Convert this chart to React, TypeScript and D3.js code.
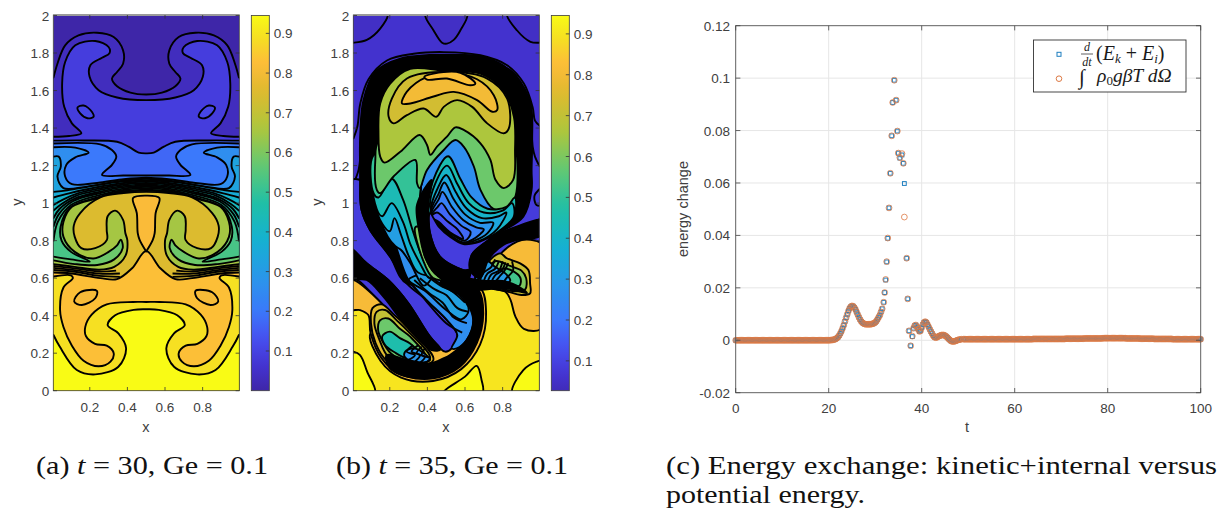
import React from 'react';
import * as d3 from 'd3';

type P = [number, number];
type Layer = { v: number | null; pts: P[]; open?: boolean; walls?: boolean };

// ---- parula colour ramp
const parulaAt = [0, 0.07, 0.14, 0.21, 0.3, 0.4, 0.5, 0.6, 0.7, 0.8, 0.87, 0.94, 1];
const parulaHex = ['#3e26a8', '#4433d2', '#4750f0', '#3b78fb', '#2a96ea', '#14b1d2', '#20bfa6', '#62c873', '#aec63c', '#dfba2e', '#fdbb3a', '#f6df22', '#f9fb15'];
const parula = d3.scaleLinear<string>().domain(parulaAt).range(parulaHex).clamp(true);
const color = (v: number) => parula(v / 0.945);

// ---- panel (a): contour lines, left half from wall to centre, mirrored at x = 0.5
const aC1: P[] = [[.007, 1.669], [.028, 1.743], [.069, 1.841], [.14, 1.894], [.238, 1.908], [.327, 1.885], [.377, 1.814], [.377, 1.743], [.345, 1.699], [.318, 1.664], [.345, 1.623], [.416, 1.589], [.5, 1.579]];
const aC2: P[] = [[.007, 1.354], [.09, 1.358], [.155, 1.372], [.105, 1.425], [.064, 1.513], [.053, 1.637], [.069, 1.752], [.123, 1.841], [.229, 1.864], [.3, 1.832], [.305, 1.8], [.265, 1.775], [.203, 1.735], [.199, 1.673], [.247, 1.602], [.345, 1.563], [.5, 1.549]];
const aC3: P[] = [[.007, 1.333], [.17, 1.334], [.345, 1.327], [.406, 1.301], [.46, 1.269], [.5, 1.265]];
const aC4: P[] = [[.007, 1.318], [.256, 1.313], [.318, 1.283], [.341, 1.248], [.318, 1.204], [.265, 1.15], [.38, 1.147], [.5, 1.147]];
const aC5: P[] = [[.007, 1.298], [.123, 1.296], [.194, 1.269], [.123, 1.244], [.075, 1.204], [.069, 1.142], [.105, 1.101], [.256, 1.11], [.38, 1.127], [.5, 1.135]];
const aC6: P[] = [[.007, 1.248], [.034, 1.248], [.046, 1.195], [.028, 1.142], [.06, 1.08], [.185, 1.088], [.345, 1.115], [.5, 1.13]];
const aA1: P[] = [[.007, 1.06], [.08, 1.068], [.22, 1.092], [.36, 1.113], [.5, 1.122]];
const aA2: P[] = [[.007, 1.03], [.09, 1.052], [.23, 1.083], [.37, 1.106], [.5, 1.115]];
const aA3: P[] = [[.007, .99], [.06, 1.02], [.14, 1.053], [.25, 1.078], [.38, 1.099], [.5, 1.107]];
const aA4: P[] = [[.007, .96], [.05, .995], [.13, 1.04], [.25, 1.069], [.38, 1.092], [.5, 1.1]];
const aA5: P[] = [[.007, .92], [.04, .97], [.12, 1.024], [.25, 1.06], [.38, 1.085], [.5, 1.094]];
const aA6: P[] = [[.007, .875], [.035, .94], [.11, 1.01], [.24, 1.05], [.38, 1.077], [.5, 1.087]];
const aA7: P[] = [[.007, .8], [.03, .9], [.1, .99], [.24, 1.04], [.38, 1.07], [.5, 1.08]];
const aA8: P[] = [[.007, .715], [.1, .7], [.2, .688], [.1, .74], [.05, .8], [.045, .875], [.095, .975], [.24, 1.03], [.38, 1.063], [.5, 1.072]];
const aA9: P[] = [[.007, .695], [.12, .675], [.24, .67], [.33, .7], [.375, .76], [.365, .805], [.345, .775], [.3, .74], [.22, .705], [.12, .74], [.06, .82], [.06, .9], [.105, .98], [.24, 1.025], [.38, 1.058], [.5, 1.067]];
const aA10: P[] = [[.007, .675], [.12, .66], [.25, .645], [.33, .66], [.39, .72], [.4, .8], [.389, .841], [.377, .911], [.335, .96], [.295, .93], [.29, .858], [.291, .804], [.229, .76], [.155, .76], [.12, .82], [.115, .88], [.149, .947], [.256, 1.03], [.38, 1.053], [.5, 1.06]];
const aA11: P[] = [[.007, .63], [.1, .625], [.256, .6], [.345, .595], [.425, .653], [.5, .745]];
const aC7: P[] = [[.007, .609], [.1, .615], [.11, .6], [.06, .55], [.042, .43], [.06, .34], [.105, .24], [.167, .16], [.247, .13], [.31, .155], [.327, .2], [.29, .24], [.228, .25], [.18, .29], [.176, .34], [.21, .405], [.29, .46], [.43, .473], [.5, .473]];
const aC8: P[] = [[.007, .297], [.04, .235], [.131, .11], [.229, .087], [.352, .128], [.393, .226], [.352, .306], [.295, .349], [.335, .402], [.433, .431], [.5, .434]];
const aIslandUpper: P[] = [[.135, 1.51], [.167, 1.52], [.211, 1.487], [.22, 1.46], [.188, 1.452], [.149, 1.478]];
const aIslandLower: P[] = [[.117, .475], [.149, .525], [.238, .532], [.229, .493], [.158, .457]];
const aColumnHalf: P[] = [[.5, .742], [.465, .804], [.455, .84], [.45, .947], [.43, 1.027], [.5, 1.04]];
const aExtra1: P[] = [[.007, .665], [.12, .652], [.25, .635], [.34, .64]];
const aExtra2: P[] = [[.007, .655], [.12, .643], [.25, .624], [.36, .625]];
const aExtra3: P[] = [[.007, .643], [.12, .634], [.25, .612], [.36, .607]];

const mirrorPts = (p: P[]): P[] => [...p, ...p.slice(0, -1).reverse().map(([x, y]) => [1 - x, y] as P)];
const flip = (p: P[]): P[] => p.map(([x, y]) => [1 - x, y] as P);

const aLayers: Layer[] = [
  { v: .035, pts: mirrorPts(aC1), walls: true },
  { v: .09, pts: mirrorPts(aC2), walls: true },
  { v: .11, pts: aIslandUpper },
  { v: .11, pts: flip(aIslandUpper) },
  { v: .17, pts: mirrorPts(aC3), walls: true },
  { v: .2, pts: mirrorPts(aC4), walls: true },
  { v: .26, pts: mirrorPts(aC5), walls: true },
  { v: .33, pts: mirrorPts(aC6), walls: true },
  { v: .36, pts: mirrorPts(aA1), walls: true },
  { v: .39, pts: mirrorPts(aA2), walls: true },
  { v: .42, pts: mirrorPts(aA3), walls: true },
  { v: .45, pts: mirrorPts(aA4), walls: true },
  { v: .47, pts: mirrorPts(aA5), walls: true },
  { v: .5, pts: mirrorPts(aA6), walls: true },
  { v: .53, pts: mirrorPts(aA7), walls: true },
  { v: .58, pts: mirrorPts(aA8), walls: true },
  { v: .65, pts: mirrorPts(aA9), walls: true },
  { v: .75, pts: mirrorPts(aA10), walls: true },
  { v: .83, pts: mirrorPts(aA11), walls: true },
  { v: .815, pts: mirrorPts(aColumnHalf) },
  { v: .81, pts: aIslandLower },
  { v: .81, pts: flip(aIslandLower) },
  { v: .89, pts: mirrorPts(aC7), walls: true },
  { v: .945, pts: mirrorPts(aC8), walls: true },
  { v: null, pts: aExtra1, open: true },
  { v: null, pts: aExtra2, open: true },
  { v: null, pts: aExtra3, open: true },
  { v: null, pts: flip(aExtra1), open: true },
  { v: null, pts: flip(aExtra2), open: true },
  { v: null, pts: flip(aExtra3), open: true },
];

// ---- panel (b): contour regions and the bundles of contours that merge into black bands
const bArc1: P[] = [[.007, 1.345], [.028, 1.41], [.043, 1.53], [.087, 1.66], [.185, 1.76], [.327, 1.796], [.487, 1.805], [.682, 1.788], [.824, 1.735], [.913, 1.637], [.96, 1.51], [.972, 1.44], [.996, 1.414]];
const bArc2: P[] = [[.007, 1.103], [.034, 1.177], [.048, 1.3], [.06, 1.5], [.15, 1.7], [.5, 1.78], [.85, 1.7], [.94, 1.5], [.96, 1.3], [.972, 1.248], [.996, 1.198]];
const bCornerL: P[] = [[.007, 1.855], [.078, 1.87], [.149, 1.93], [.188, 2.01], [0, 2.01], [0, 1.855]];
const bCornerM: P[] = [[.389, 2.01], [.433, 1.92], [.478, 1.855], [.504, 1.85], [.54, 1.87], [.575, 1.92], [.611, 2.01]];
const bCornerR: P[] = [[.824, 2.01], [.877, 1.92], [.948, 1.86], [.996, 1.855], [1.01, 1.855], [1.01, 2.01]];
const bYellow: P[] = [[-.01, .6], [.309, .35], [.611, .55], [.824, .56], [1.01, .6], [1.01, -.01], [-.01, -.01]];
const bBrightL: P[] = [[.006, .208], [.042, .19], [.08, .1], [.121, -.01], [-.01, -.01], [-.01, .208]];
const bBrightM: P[] = [[.485, -.01], [.6, .075], [.662, .132], [.688, .057], [.692, -.01]];
const bBrightR: P[] = [[.852, -.01], [.91, .11], [.981, .155], [1.01, .158], [1.01, -.01]];
const bRim: P[] = [[.098, .306], [.15, .16], [.26, .07], [.43, .052], [.58, .115], [.68, .245], [.712, .42], [.68, .545], [.5, .5], [.3, .3]];
const bLobeOrange: P[] = [[-.01, .591], [.2, .42], [.43, .08], [.254, .089], [.157, .172], [.098, .306], [.086, .403], [.042, .43], [-.01, .434]];
const bLobeYellow: P[] = [[.1, .359], [.108, .44], [.157, .46], [.228, .4], [.308, .323], [.432, .164], [.29, .118], [.183, .16], [.125, .252]];
const bLobeOlive: P[] = [[.118, .359], [.13, .42], [.175, .43], [.237, .375], [.299, .315], [.414, .172], [.29, .136], [.192, .18], [.142, .279]];
const bLobeGreen: P[] = [[.138, .323], [.148, .375], [.192, .385], [.254, .33], [.308, .288], [.396, .172], [.29, .156], [.205, .2], [.158, .27]];
const bLobeTeal: P[] = [[.175, .243], [.16, .29], [.2, .315], [.254, .28], [.308, .252], [.378, .172], [.29, .172], [.225, .205]];
const bLobeBlue: P[] = [[.281, .178], [.281, .208], [.325, .226], [.37, .208], [.414, .164], [.343, .15]];
const bFinger: P[] = [[-.01, .76], [.077, .68], [.192, .59], [.299, .466], [.414, .288], [.494, .208], [.529, .226], [.559, .297], [.503, .377], [.396, .483], [.29, .572], [.201, .715], [.095, .857], [.05, .963], [.042, 1.05], [.045, 1.12], [-.01, 1.12]];
const bOuterBlack: P[] = [[.042, 1.1765], [.043, 1.372], [.06, 1.549], [.123, 1.699], [.256, 1.77], [.487, 1.791], [.718, 1.774], [.868, 1.68], [.948, 1.531], [.957, 1.336], [.954, 1.1765], [.954, 1.07], [.91, .928], [.786, .84], [.65, .72], [.5, .6], [.29, .572], [.201, .715], [.095, .857], [.05, .963]];
const bInterior: P[] = [[.14, 1.372], [.149, 1.531], [.202, 1.637], [.309, 1.716], [.487, 1.706], [.682, 1.69], [.806, 1.6], [.86, 1.46], [.868, 1.283], [.875, 1.1765], [.866, 1.0], [.822, .91], [.697, .82], [.591, .782], [.503, .777], [.414, .945], [.387, .821], [.423, .697], [.5, .59], [.591, .501], [.644, .377], [.609, .27], [.556, .226], [.529, .226], [.559, .297], [.503, .377], [.396, .483], [.299, .59], [.219, .803], [.139, .945], [.113, 1.017], [.104, 1.1765]];
const bWaveD: P[] = [[.19, .82], [.23, .77], [.26, .75], [.31, .68], [.38, .56], [.43, .62], [.4, .75], [.36, 1.0], [.36, 1.2], [.2, 1.3], [.11, 1.25], [.12, 1.0]];
const bWaveC: P[] = [[.16, .89], [.2, .85], [.225, .92], [.26, .83], [.3, .72], [.35, .63], [.43, .62], [.4, .75], [.36, 1.0], [.36, 1.2], [.2, 1.3], [.11, 1.25], [.12, 1.0]];
const bWaveB: P[] = [[.13, .97], [.16, .93], [.21, 1.0], [.27, .9], [.31, .78], [.36, .68], [.41, .6], [.43, .62], [.4, .75], [.36, 1.0], [.36, 1.2], [.2, 1.3], [.11, 1.25]];
const bWaveA: P[] = [[.115, 1.05], [.14, 1.03], [.21, 1.13], [.27, 1.02], [.32, .86], [.37, .72], [.43, .62], [.4, .75], [.36, 1.0], [.36, 1.2], [.2, 1.3], [.11, 1.25]];
const bHookGreen: P[] = [[.352, .874], [.387, .715], [.44, .626], [.5, .59], [.43, .6], [.375, .7], [.335, .87]];
const bLowerCyan: P[] = [[.3, .59], [.39, .53], [.5, .43], [.58, .38], [.62, .43], [.56, .52], [.47, .57], [.38, .62]];
const bC2: P[] = [[.265, 1.531], [.291, 1.594], [.398, 1.673], [.522, 1.692], [.664, 1.66], [.753, 1.575], [.771, 1.496], [.745, 1.487], [.664, 1.549], [.54, 1.593], [.433, 1.568], [.309, 1.531]];
const bC1: P[] = [[.384, 1.673], [.433, 1.69], [.575, 1.695], [.655, 1.637], [.629, 1.628], [.504, 1.664], [.398, 1.658]];
const bC3: P[] = [[.194, 1.46], [.211, 1.557], [.291, 1.664], [.504, 1.7], [.718, 1.664], [.824, 1.557], [.833, 1.398], [.806, 1.372], [.718, 1.425], [.638, 1.513], [.558, 1.549], [.487, 1.513], [.447, 1.46], [.38, 1.504], [.291, 1.469], [.22, 1.425]];
const bC4: P[] = [[.149, 1.248], [.14, 1.372], [.149, 1.531], [.202, 1.637], [.309, 1.716], [.487, 1.706], [.682, 1.69], [.806, 1.6], [.86, 1.46], [.866, 1.283], [.856, 1.124], [.806, 1.08], [.762, 1.124], [.735, 1.23], [.682, 1.319], [.593, 1.39], [.549, 1.404], [.504, 1.354], [.451, 1.301], [.416, 1.257], [.398, 1.31], [.359, 1.363], [.256, 1.274], [.172, 1.216]];
const bC5: P[] = [[.131, 1.071], [.123, 1.23], [.14, 1.33], [.3, 1.4], [.6, 1.45], [.85, 1.35], [.87, 1.3], [.868, 1.035], [.824, .973], [.753, .968], [.682, 1.071], [.647, 1.195], [.593, 1.301], [.549, 1.336], [.487, 1.283], [.398, 1.177], [.359, 1.08], [.345, 1.106], [.336, 1.23], [.22, 1.142], [.149, 1.053]];
const bS0: P[] = [[.405, .96], [.43, 1.12], [.51, 1.25], [.575, 1.13], [.635, 1.03], [.72, .97], [.82, .98], [.865, 1.03], [.86, .92], [.78, .845], [.68, .79], [.591, .78], [.52, .818], [.455, .87]];
const bS1: P[] = [[.414, .98], [.44, 1.1], [.505, 1.2], [.56, 1.1], [.62, 1.0], [.7, .95], [.8, .96], [.85, 1.0], [.86, .93], [.78, .85], [.68, .795], [.591, .782], [.52, .821], [.46, .875]];
const bS2: P[] = [[.42, .97], [.455, 1.08], [.5, 1.15], [.55, 1.06], [.61, .97], [.69, .92], [.78, .93], [.82, .95], [.77, .86], [.68, .8], [.591, .785], [.52, .825], [.46, .88]];
const bS3: P[] = [[.42, .955], [.46, 1.05], [.49, 1.11], [.54, 1.02], [.6, .94], [.68, .895], [.75, .895], [.72, .84], [.65, .8], [.591, .788], [.52, .828], [.46, .885]];
const bS4: P[] = [[.42, .94], [.46, 1.02], [.48, 1.06], [.53, .98], [.59, .91], [.66, .87], [.7, .86], [.64, .805], [.591, .79], [.52, .832], [.46, .89]];
const bS5: P[] = [[.42, .93], [.455, .98], [.475, 1.0], [.52, .94], [.58, .88], [.63, .845], [.6, .8], [.52, .84], [.46, .895]];
const bS6: P[] = [[.42, .925], [.45, .95], [.51, .9], [.56, .86], [.59, .81], [.52, .845], [.46, .9]];
const bBlueRegion: P[] = [[.414, .945], [.46, .875], [.52, .821], [.591, .782], [.68, .795], [.775, .84], [.697, .782], [.635, .723], [.627, .643], [.591, .643], [.467, .715], [.414, .839]];
const bRightOrange: P[] = [[.78, .715], [.877, .795], [.948, .804], [1.01, .78], [1.01, .333], [.913, .33], [.868, .395], [.842, .484], [.815, .528], [.718, .555], [.771, .644]];
const bRightOlive: P[] = [[.786, .732], [.822, .706], [.893, .679], [.937, .643], [.946, .572], [.946, .519], [.9, .51], [.822, .53], [.72, .56], [.7, .65]];
const bRightGreen: P[] = [[.76, .69], [.84, .665], [.9, .64], [.925, .6], [.92, .54], [.87, .53], [.76, .56], [.72, .62]];
const bRightTeal: P[] = [[.8, .65], [.86, .635], [.895, .6], [.89, .56], [.85, .555], [.78, .57], [.76, .61]];
const bRightBlue: P[] = [[.72, .69], [.76, .66], [.82, .62], [.84, .585], [.76, .565], [.66, .58], [.66, .63]];
const bHook: P[] = [[.423, 1.123], [.37, 1.052], [.343, .981], [.352, .874], [.387, .715], [.44, .626], [.52, .572], [.6, .56], [.627, .643], [.591, .643], [.467, .715], [.41, .857], [.405, 1.0]];
const bBandH: P[] = [[.5, .6], [.6, .6], [.72, .585], [.8, .585], [.875, .56], [.93, .52], [.82, .545], [.671, .537], [.55, .53]];
const bBandRight: P[] = [[.627, .643], [.635, .723], [.697, .782], [.786, .839], [.981, .91], [1.01, .915], [1.01, .83], [.875, .803], [.804, .777], [.75, .732], [.72, .69], [.68, .6]];
const bBandDiag: P[] = [[-.01, .76], [.077, .68], [.192, .59], [.299, .466], [.414, .288], [.47, .22], [.423, .217], [.29, .341], [.166, .501], [.077, .59], [-.01, .6]];
const bBandBottom: P[] = [[.183, .19], [.29, .164], [.414, .146], [.485, .172], [.52, .19], [.609, .27], [.644, .377], [.618, .466], [.591, .501], [.52, .537], [.467, .572], [.52, .61], [.671, .537], [.697, .412], [.662, .252], [.573, .128], [.432, .066], [.29, .075], [.2, .12]];
const bWedge: P[] = [[1.01, 1.08], [.97, 1.04], [.98, .99], [1.01, .99]];

const bLineW1: P[] = [[.33, .59], [.41, .52], [.48, .47], [.54, .39], [.61, .36]];
const bLineW2: P[] = [[.36, .6], [.44, .54], [.5, .51], [.56, .44], [.62, .42]];
const bLineW3: P[] = [[.4, .61], [.47, .56], [.53, .53], [.6, .47]];
const bLineW4: P[] = [[.3, .59], [.4, .47], [.5, .36], [.585, .31]];
const bStripe1: P[] = [[.325, .243], [.29, .208], [.334, .19], [.299, .164]];
const bStripe2: P[] = [[.352, .243], [.316, .208], [.361, .19], [.334, .155]];
const bStripe3: P[] = [[.37, .235], [.343, .199], [.387, .181], [.361, .149]];
const bStripe4: P[] = [[.387, .226], [.37, .19], [.414, .172], [.387, .146]];
const bFan1: P[] = [[.68, .59], [.7, .63], [.74, .66], [.76, .7]];
const bFan2: P[] = [[.72, .58], [.74, .62], [.78, .64], [.8, .69]];
const bFan3: P[] = [[.76, .58], [.785, .61], [.81, .64], [.83, .68]];
const bFan4: P[] = [[.8, .57], [.82, .6], [.855, .64], [.85, .69]];
const bFan5: P[] = [[.7, .585], [.72, .625], [.76, .65], [.78, .69]];
const bFan6: P[] = [[.74, .58], [.76, .615], [.795, .64], [.815, .685]];

const bLayers: Layer[] = [
  { v: .045, pts: bCornerL }, { v: .045, pts: bCornerM }, { v: .045, pts: bCornerR },
  { v: .06, pts: bArc1, walls: true },
  { v: .085, pts: bArc2, walls: true },
  { v: .9, pts: bYellow },
  { v: .945, pts: bBrightL }, { v: .945, pts: bBrightM }, { v: .945, pts: bBrightR },
  { v: .81, pts: bRim },
  { v: .81, pts: bLobeOrange },
  { v: .76, pts: bLobeYellow }, { v: .7, pts: bLobeOlive }, { v: .58, pts: bLobeGreen }, { v: .46, pts: bLobeTeal }, { v: .28, pts: bLobeBlue },
  { v: .09, pts: bFinger },
  { v: null, pts: bOuterBlack },
  { v: .26, pts: bInterior },
  { v: .32, pts: bLowerCyan },
  { v: .31, pts: bWaveD }, { v: .38, pts: bWaveC }, { v: .44, pts: bWaveB }, { v: .5, pts: bWaveA }, { v: .6, pts: bHookGreen },
  { v: .58, pts: bC5 }, { v: .66, pts: bC4 }, { v: .73, pts: bC3 }, { v: .8, pts: bC2 }, { v: .83, pts: bC1 },
  { v: .45, pts: bS0 }, { v: .4, pts: bS1 }, { v: .34, pts: bS2 }, { v: .28, pts: bS3 }, { v: .22, pts: bS4 }, { v: .17, pts: bS5 }, { v: .13, pts: bS6 },
  { v: .09, pts: bBlueRegion },
  { v: .81, pts: bRightOrange }, { v: .72, pts: bRightOlive }, { v: .6, pts: bRightGreen }, { v: .52, pts: bRightTeal }, { v: .3, pts: bRightBlue },
  { v: null, pts: bHook }, { v: null, pts: bBandH }, { v: null, pts: bBandRight }, { v: null, pts: bBandDiag }, { v: null, pts: bBandBottom },
  { v: .09, pts: bWedge },
  ...[bLineW1, bLineW2, bLineW3, bLineW4, bStripe1, bStripe2, bStripe3, bStripe4, bFan1, bFan2, bFan3, bFan4, bFan5, bFan6].map(pts => ({ v: null, pts, open: true } as Layer)),
];

// ---- panel (c): energy series
const xTicks = [.2, .4, .6, .8];
const yTicks = [0, .2, .4, .6, .8, 1, 1.2, 1.4, 1.6, 1.8, 2];
const cbTicks = [.1, .2, .3, .4, .5, .6, .7, .8, .9];
const cTickX = [0, 20, 40, 60, 80, 100];
const cTickY = [-.02, 0, .02, .04, .06, .08, .1, .12];

const tEarly = d3.range(0, 20, .25);
const vEarly = tEarly.map(() => 0);
const tBump = [20, 20.25, 20.5, 20.75, 21, 21.25, 21.5, 21.75, 22, 22.25, 22.5, 22.75, 23, 23.25, 23.5, 23.75, 24, 24.25, 24.5, 24.75, 25, 25.25, 25.5, 25.75, 26, 26.25, 26.5, 26.75, 27, 27.25, 27.5, 27.75, 28, 28.25, 28.5, 28.75, 29, 29.25, 29.5, 29.75, 30, 30.25, 30.5, 30.75, 31, 31.25];
const vBump = [0, 0, .0001, .0001, .0002, .0003, .0005, .0008, .0012, .0018, .0026, .0035, .0046, .0058, .0072, .0086, .0099, .0112, .0122, .0128, .0131, .013, .0125, .0118, .0108, .0098, .0088, .0079, .0072, .0067, .0064, .0062, .0061, .0061, .0061, .0061, .0061, .0062, .0063, .0065, .0068, .0073, .008, .0088, .0096, .0108];
const tPeak = [31.5, 31.83, 32.04, 32.25, 32.47, 32.7, 32.97, 33.25, 33.55, 33.76, 34.1, 34.5, 34.76, 34.97, 35.3, 35.76, 36.05, 36.27, 36.77, 37, 37.27, 37.63, 37.98];
const vPeakBlue = [.012, .0145, .0182, .023, .0299, .0389, .0505, .0637, .078, .0907, .0992, .0916, .0798, .0714, .0695, .0707, .0675, .0598, .0313, .0158, .0036, -.0021, .0014];
const vPeakOrange = [.012, .0145, .0182, .0232, .03, .039, .0505, .0637, .078, .0907, .0992, .0916, .0798, .0714, .0697, .0712, .0675, .047, .0313, .0158, .0036, -.0021, .0016];
const tTail = [38.25, 38.5, 38.75, 39, 39.25, 39.5, 39.75, 40, 40.25, 40.5, 40.75, 41, 41.25, 41.5, 41.75, 42, 42.25, 42.5, 42.75, 43, 43.25, 43.5, 43.75, 44, 44.25, 44.5, 44.75, 45, 45.25, 45.5, 45.75, 46, 46.25, 46.5, 46.75, 47, 47.25, 47.5, 47.75, 48, 48.25, 48.5];
const vTail = [.0046, .0056, .0058, .0051, .0042, .0034, .0036, .0048, .006, .0068, .0071, .0068, .006, .0051, .0042, .0033, .0025, .0017, .0012, .001, .0011, .0014, .0016, .0018, .002, .002, .002, .0018, .0015, .0011, .0006, .0002, -.0002, -.0004, -.0005, -.0004, -.0003, -.0001, .0001, .0002, .0003, .0004];
const tLateUnit = [49, 50, 51, 52, 53, 54, 55, 56, 57, 58, 59, 60, 61, 62, 63, 64, 65, 66, 67, 68, 69, 70, 71, 72, 73, 74, 75, 76, 77, 78, 79, 80, 81, 82, 83, 84, 85, 86, 87, 88, 89, 90, 91, 92, 93, 94, 95, 96, 97, 98, 99, 100];
const vLateUnit = [.0004, .0004, .0004, .0004, .0004, .0004, .0004, .0004, .0004, .0004, .0004, .0004, .0004, .0004, .0004, .0005, .0005, .0005, .0005, .0005, .0005, .0005, .0006, .0006, .0006, .0006, .0007, .0007, .0007, .0007, .0008, .0008, .0008, .0008, .0008, .0007, .0007, .0007, .0006, .0006, .0006, .0005, .0005, .0005, .0005, .0004, .0004, .0004, .0004, .0004, .0004, .0004];
const tLate = tLateUnit.flatMap(t => [t, t + .25, t + .5, t + .75]).slice(0, -3);
const vLate = vLateUnit.flatMap(v => [v, v, v, v]).slice(0, -3);

const sans = '"Liberation Sans", Arial, sans-serif';
const serif = '"Liberation Serif", "DejaVu Serif", serif';
const ink = '#404040';

function ContourPanel({ left, layers, cbMin, id }: { left: number; layers: Layer[]; cbMin: number; id: string }) {
  const xS = d3.scaleLinear().domain([.006, .995]).range([left, left + 186]);
  const yS = d3.scaleLinear().domain([0, 2]).range([390.7, 15.5]);
  const cbX = left + 198, cbW = 18;
  const cS = d3.scaleLinear().domain([cbMin, .945]).range([390.7, 15.5]);
  const gen = (pts: P[], closed: boolean) =>
    d3.line<P>().x(d => xS(d[0])).y(d => yS(d[1])).curve(closed ? d3.curveCatmullRomClosed.alpha(.5) : d3.curveCatmullRom.alpha(.5))(pts) as string;
  const path = (l: Layer) => {
    if (l.open) return gen(l.pts, false);
    if (l.walls) {
      const r = left + 191, L = left - 5;
      return `${gen(l.pts, false)}L${r},${yS(l.pts[l.pts.length - 1][1])}L${r},396L${L},396L${L},${yS(l.pts[0][1])}Z`;
    }
    return gen(l.pts, true);
  };
  const stops = d3.range(0, 33).map(i => i / 32);
  return (
    <g>
      <defs>
        <clipPath id={`clip${id}`}><rect x={left} y={15.5} width={186} height={375.2} /></clipPath>
        <linearGradient id={`grad${id}`} x1="0" y1="1" x2="0" y2="0">
          {stops.map(s => <stop key={s} offset={s} stopColor={color(cbMin + s * (.945 - cbMin))} />)}
        </linearGradient>
      </defs>
      <g clipPath={`url(#clip${id})`}>
        <rect x={left} y={15.5} width={186} height={375.2} fill={color(id === 'a' ? 0 : .06)} />
        {layers.map((l, i) => (
          <path key={i} d={path(l)} fill={l.open ? 'none' : l.v === null ? '#000' : color(l.v)} stroke="#000" strokeWidth={1.9} strokeLinejoin="round" />
        ))}
      </g>
      <rect x={left} y={15} width={186} height={375.7} fill="none" stroke="#3c3c3c" strokeWidth={.8} />
      <line x1={left} x2={left + 186} y1={15} y2={15} stroke="#9a9a9a" strokeWidth={2} />
      {xTicks.map(t => (
        <g key={t}>
          <line x1={xS(t)} x2={xS(t)} y1={390.7} y2={387} stroke="#333" strokeWidth={.8} />
          <line x1={xS(t)} x2={xS(t)} y1={15} y2={18.7} stroke="#333" strokeWidth={.8} />
          <text x={xS(t)} y={411.5} textAnchor="middle" fontFamily={sans} fontSize={13.5} fill={ink}>{t}</text>
        </g>
      ))}
      {yTicks.map(t => (
        <g key={t}>
          <line x1={left} x2={left + 3.7} y1={yS(t)} y2={yS(t)} stroke="#333" strokeWidth={.8} />
          <line x1={left + 186} x2={left + 182.3} y1={yS(t)} y2={yS(t)} stroke="#333" strokeWidth={.8} />
          <text x={left - 4} y={yS(t) + 5} textAnchor="end" fontFamily={sans} fontSize={13.5} fill={ink}>{t}</text>
        </g>
      ))}
      <text x={left + 92.5} y={431.5} textAnchor="middle" fontFamily={sans} fontSize={14.5} fill={ink}>x</text>
      <text transform={`translate(${left - 35},202) rotate(-90)`} x={0} y={4} textAnchor="middle" fontFamily={sans} fontSize={14.5} fill={ink}>y</text>
      <rect x={cbX} y={15.5} width={cbW} height={375.2} fill={`url(#grad${id})`} stroke="#3c3c3c" strokeWidth={.8} />
      {cbTicks.map(t => (
        <g key={t}>
          <line x1={cbX + cbW} x2={cbX + cbW - 3.5} y1={cS(t)} y2={cS(t)} stroke="#333" strokeWidth={.8} />
          <text x={cbX + cbW + 4.5} y={cS(t) + 5} fontFamily={sans} fontSize={13.5} fill={ink}>{t}</text>
        </g>
      ))}
    </g>
  );
}

function EnergyPanel() {
  const xS = d3.scaleLinear().domain([0, 100]).range([735.7, 1200.7]);
  const yS = d3.scaleLinear().domain([-.02, .12]).range([392.7, 25.7]);
  const t = [...tEarly, ...tBump, ...tPeak, ...tTail, ...tLate];
  const blue = [...vEarly, ...vBump, ...vPeakBlue, ...vTail, ...vLate];
  const orange = [...vEarly, ...vBump, ...vPeakOrange, ...vTail, ...vLate];
  return (
    <g>
      <rect x={735.7} y={25.7} width={465} height={367} fill="#fff" />
      {cTickX.map(v => <line key={v} x1={xS(v)} x2={xS(v)} y1={25.7} y2={392.7} stroke="#e6e6e6" strokeWidth={1} />)}
      {cTickY.map(v => <line key={v} x1={735.7} x2={1200.7} y1={yS(v)} y2={yS(v)} stroke="#e6e6e6" strokeWidth={1} />)}
      {blue.map((v, i) => <rect key={i} x={xS(t[i]) - 1.9} y={yS(v) - 1.9} width={3.8} height={3.8} fill="none" stroke="#1f7fc0" strokeWidth={1} />)}
      {orange.map((v, i) => <circle key={i} cx={xS(t[i])} cy={yS(v)} r={2.9} fill="none" stroke="#dd7a45" strokeWidth={.8} />)}
      <rect x={735.7} y={25.7} width={465} height={367} fill="none" stroke="#5a5a5a" strokeWidth={.9} />
      {cTickX.map(v => (
        <g key={v}>
          <line x1={xS(v)} x2={xS(v)} y1={392.7} y2={388} stroke="#444" strokeWidth={.8} />
          <line x1={xS(v)} x2={xS(v)} y1={25.7} y2={30.4} stroke="#444" strokeWidth={.8} />
          <text x={xS(v)} y={412.5} textAnchor="middle" fontFamily={sans} fontSize={13.5} fill={ink}>{v}</text>
        </g>
      ))}
      {cTickY.map(v => (
        <g key={v}>
          <line x1={735.7} x2={740.4} y1={yS(v)} y2={yS(v)} stroke="#444" strokeWidth={.8} />
          <line x1={1200.7} x2={1196} y1={yS(v)} y2={yS(v)} stroke="#444" strokeWidth={.8} />
          <text x={730} y={yS(v) + 5} textAnchor="end" fontFamily={sans} fontSize={13.5} fill={ink}>{v}</text>
        </g>
      ))}
      <text x={967} y={432} textAnchor="middle" fontFamily={sans} fontSize={14.5} fill={ink}>t</text>
      <text transform="translate(688,209) rotate(-90)" textAnchor="middle" fontFamily={sans} fontSize={14.5} fill={ink}>energy change</text>
      <rect x={1033.5} y={40} width={152.5} height={52} fill="#fff" stroke="#333" strokeWidth={.9} />
      <rect x={1057} y={52.3} width={4} height={4} fill="none" stroke="#1f7fc0" strokeWidth={1} />
      <circle cx={1059} cy={78.7} r={2.8} fill="none" stroke="#dd7a45" strokeWidth={1} />
      <g fontFamily={serif} fill="#1a1a1a">
        <text x={1087} y={50.5} textAnchor="middle" fontSize={12} fontStyle="italic">d</text>
        <line x1={1081} x2={1093} y1={54} y2={54} stroke="#1a1a1a" strokeWidth={.7} />
        <text x={1087} y={65.5} textAnchor="middle" fontSize={12} fontStyle="italic">dt</text>
        <text x={1096} y={59.5} fontSize={20}>(<tspan fontStyle="italic">E</tspan><tspan fontSize={13} fontStyle="italic" dy={3}>k</tspan><tspan dy={-3}> + </tspan><tspan fontStyle="italic">E</tspan><tspan fontSize={13} fontStyle="italic" dy={3}>i</tspan><tspan dy={-3}>)</tspan></text>
        <text x={1079} y={84} fontSize={21} fontStyle="italic">∫</text>
        <text x={1097} y={82} fontSize={19.5}><tspan fontStyle="italic">ρ</tspan><tspan fontSize={13} dy={3}>0</tspan><tspan fontStyle="italic" dy={-3}>gβT dΩ</tspan></text>
      </g>
    </g>
  );
}

export default function App() {
  return (
    <svg width={1226} height={509} viewBox="0 0 1226 509" style={{ position: 'absolute', left: 0, top: 0, background: '#fff' }}>
      <ContourPanel id="a" left={53.3} layers={aLayers} cbMin={0} />
      <ContourPanel id="b" left={353.3} layers={bLayers} cbMin={.027} />
      <EnergyPanel />
      <g fontFamily={serif} fontSize={25.5} fill="#111">
        <text x={36} y={474} textLength={232} lengthAdjust="spacingAndGlyphs">(a) <tspan fontStyle="italic">t</tspan> = 30, Ge = 0.1</text>
        <text x={336} y={474} textLength={232} lengthAdjust="spacingAndGlyphs">(b) <tspan fontStyle="italic">t</tspan> = 35, Ge = 0.1</text>
        <text x={666} y={474} textLength={551} lengthAdjust="spacingAndGlyphs">(c) Energy exchange: kinetic+internal versus</text>
        <text x={666} y={503} textLength={199} lengthAdjust="spacingAndGlyphs">potential energy.</text>
      </g>
    </svg>
  );
}
